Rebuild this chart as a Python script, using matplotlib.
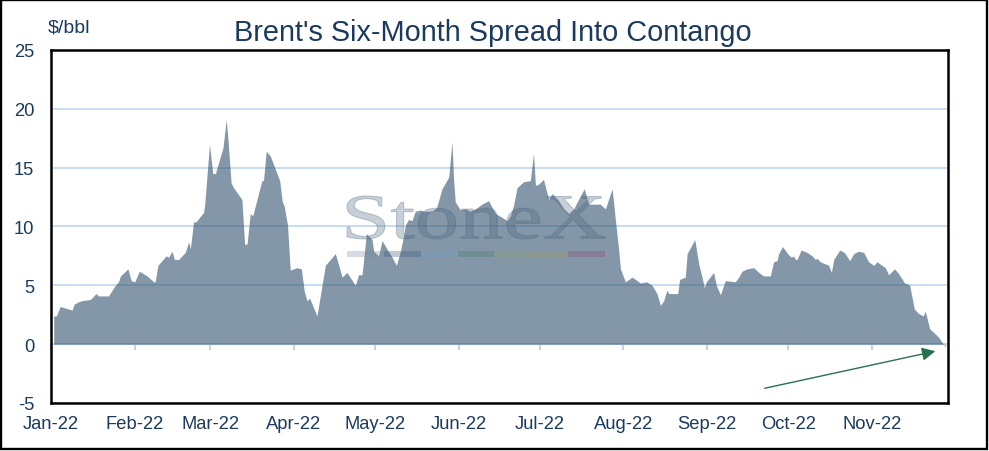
import datetime as dt
import numpy as np
import matplotlib
matplotlib.use("Agg")
import matplotlib.pyplot as plt
import matplotlib.dates as mdates
from matplotlib.patches import Rectangle, PathPatch
from matplotlib.textpath import TextPath
from matplotlib.font_manager import FontProperties
from matplotlib.transforms import Affine2D

plt.rcParams["font.family"] = ["Liberation Sans", "DejaVu Sans"]
plt.rcParams["axes.unicode_minus"] = False

# ---------------- data ----------------
START = dt.datetime(2022, 1, 1)
# days since 1 Jan 2022
day_offset = [
    1, 2, 3.4, 7.8, 8.6, 10.2, 11.5, 14.6, 16.7, 17.6, 21.3, 23.8, 25.0, 25.7,
    28.5, 29.7, 31.0, 32.7, 35.6, 38.0, 38.6, 39.6, 41.1, 42.6, 43.6, 44.8,
    45.7, 47.3, 49.7, 51.0, 51.6, 52.8, 53.7, 56.5, 56.9, 58.7, 59.9, 60.9,
    61.5, 63.7, 64.9, 65.6, 66.7, 67.6, 70.7, 71.7, 72.6, 73.8, 74.7, 78.1,
    78.7, 79.7, 81.2, 84.7, 85.6, 86.4, 87.6, 88.6, 91.1, 92.7, 93.8, 94.8,
    95.8, 98.5, 101.6, 105.3, 107.8, 109.6, 112.7, 113.9, 115.2, 116.8, 118.9,
    119.5, 121.3, 122.6, 124.4, 126.3, 127.9, 129.4, 130.6, 131.2, 132.4,
    133.7, 134.9, 136.8, 138.0, 141.1, 142.8, 144.8, 147.3, 148.5, 149.1,
    149.7, 151.6, 153.4, 155.3, 157.8, 159.6, 162.1, 162.7, 164.6, 167.6,
    168.9, 170.1, 171.3, 172.6, 175.0, 177.5, 178.7, 179.4, 180.6, 182.4,
    184.3, 185.6, 188.0, 189.9, 191.7, 193.6, 196.0, 197.5, 199.1, 201.0,
    203.4, 205.3, 207.8, 209.0, 210.2, 210.9, 212.7, 215.2, 218.3, 220.7,
    222.6, 224.4, 225.7, 226.9, 228.1, 228.7, 232.1, 232.8, 234.9, 235.6,
    236.8, 238.4, 239.9, 241.1, 242.0, 242.7, 245.4, 246.4, 247.9, 249.7,
    253.4, 254.7, 255.9, 257.8, 260.2, 262.1, 263.9, 266.4, 267.6, 268.9,
    269.5, 270.9, 273.1, 274.2, 275.0, 275.7, 276.3, 277.8, 280.0, 281.9,
    283.1, 283.7, 284.9, 288.0, 289.0, 289.9, 292.1, 293.8, 295.8, 297.3,
    299.1, 301.0, 302.8, 304.7, 305.9, 307.1, 309.0, 310.2, 312.4, 313.9,
    316.1, 317.4, 318.0, 319.7, 321.3, 323.0, 323.8, 325.4, 326.9, 328.7,
    330.5, 331.2,
]
spread = [
    2.4, 2.4, 3.2, 2.9, 3.4, 3.6, 3.7, 3.8, 4.3, 4.1, 4.1, 5.0, 5.3, 5.8,
    6.4, 5.4, 5.3, 6.2, 5.8, 5.3, 5.3, 6.7, 7.1, 7.5, 7.4, 7.9,
    7.2, 7.2, 7.8, 8.7, 8.1, 10.4, 10.4, 11.2, 11.8, 17.0, 14.5, 14.5,
    15.0, 16.7, 19.1, 17.2, 13.7, 13.3, 12.3, 8.5, 8.5, 11.1, 10.9, 13.9,
    13.9, 16.4, 16.0, 13.9, 12.2, 11.7, 10.1, 6.3, 6.5, 6.4, 4.5, 3.7,
    3.9, 2.4, 6.7, 7.7, 5.7, 6.1, 5.0, 5.9, 5.9, 9.4, 8.9,
    7.9, 7.5, 8.8, 8.1, 7.4, 6.7, 7.9, 9.2, 10.1, 10.6,
    10.5, 11.3, 11.4, 11.3, 11.3, 11.6, 13.2, 14.2, 17.2, 14.0,
    12.1, 11.4, 11.5, 11.3, 11.6, 11.9, 12.2, 11.9, 11.1, 10.7,
    10.5, 10.9, 11.8, 13.3, 13.8, 13.9, 16.2, 13.5, 13.6, 14.0,
    12.3, 12.8, 12.2, 11.5, 11.1, 11.5, 12.6, 13.2, 11.9, 11.9,
    11.9, 11.5, 13.2, 10.6, 8.1, 6.4, 5.3, 5.7, 5.2, 5.3,
    5.0, 4.3, 3.3, 3.7, 4.6, 4.3, 4.3, 5.5, 5.7, 7.7,
    8.2, 8.9, 6.8, 5.7, 4.8, 5.3, 6.1, 5.0, 4.2, 5.4,
    5.3, 5.7, 6.2, 6.4, 6.5, 6.1, 5.8, 5.8, 7.0, 7.1,
    7.7, 8.3, 7.6, 7.4, 7.5, 7.2, 7.2, 8.0, 7.8, 7.5,
    7.2, 7.3, 7.0, 6.7, 6.1, 7.2, 8.0, 7.8, 7.1, 7.7,
    7.9, 7.8, 7.0, 6.7, 7.0, 6.8, 6.5, 5.9, 6.4, 6.0,
    5.2, 5.1, 5.0, 3.0, 2.6, 2.4, 2.8, 1.3, 1.0, 0.6,
    0.0, -0.3,
]
x_end_day = 332.2
y_ticks = [-5, 0, 5, 10, 15, 20, 25]
title_text = "Brent's Six-Month Spread Into Contango"
unit_text = "$/bbl"
arrow_from = (264.3, -3.75)   # (day, value)
arrow_to = (327.5, -0.6)

# ---------------- styling ----------------
NAVY = "#1B3A5E"
GRID = "#BDD7EE"
AREA = "#32526E"

dates = [START + dt.timedelta(days=d) for d in day_offset]
x = mdates.date2num(dates)
y = np.array(spread)

fig = plt.figure(figsize=(9.89, 4.52), dpi=100)
ax = fig.add_axes([51 / 989, 1 - 404 / 452, (948 - 51) / 989, (404 - 51) / 452])

ymin, ymax = y_ticks[0], y_ticks[-1]
ax.set_ylim(ymin, ymax)
ax.set_xlim(mdates.date2num(START), mdates.date2num(START + dt.timedelta(days=x_end_day)))

ax.fill_between(x, y, 0, where=y >= 0, interpolate=True, color=AREA, alpha=0.6,
                lw=0, zorder=2)
ax.fill_between(x, y, 0, where=y < 0, interpolate=True, color="#F2A541",
                lw=0, zorder=2)

ax.set_yticks(y_ticks)
ax.yaxis.grid(True, color=GRID, lw=1.2, zorder=1)
ax.set_axisbelow(True)
ax.tick_params(axis="y", length=0, pad=12, labelsize=13.2, labelcolor=NAVY)

ax.xaxis.set_major_locator(mdates.MonthLocator())
ax.xaxis.set_major_formatter(mdates.DateFormatter("%b-%y"))
ax.tick_params(axis="x", length=0, pad=9, labelsize=13.2, labelcolor=NAVY)

for s in ax.spines.values():
    s.set_color("black")
    s.set_linewidth(1.8)
    s.set_zorder(6)

# zero axis line with month tick marks
sec = ax.secondary_xaxis((0 - ymin) / (ymax - ymin))
sec.xaxis.set_major_locator(mdates.MonthLocator())
sec.tick_params(axis="x", length=4, width=1.5, color=GRID, labelbottom=False,
                labeltop=False, direction="out")
for s in sec.spines.values():
    s.set_color(GRID)
    s.set_linewidth(1.5)

# watermark
fp = FontProperties(family="Liberation Serif")
tp = TextPath((0, 0), "StoneX", size=1, prop=fp)
ext = tp.get_extents()
bx0, bx1 = (347 - 51) / 897, (605 - 51) / 897
by0, by1 = (404 - 240) / 353, (404 - 197) / 353
tr = (Affine2D().translate(-ext.x0, -ext.y0)
      .scale((bx1 - bx0) / ext.width, (by1 - by0) / ext.height)
      .translate(bx0, by0) + ax.transAxes)
ax.add_patch(PathPatch(tp, transform=tr, facecolor="#48637C", edgecolor="#48637C",
                       alpha=0.3, lw=0.8, zorder=4))

bar_colors = ["#7A8C9C", "#3B5173", "#70A1C3", "#3E7C6A", "#8FA06A", "#A0945A", "#8A4470"]
bw = (bx1 - bx0) / len(bar_colors)
bar_y0, bar_y1 = (404 - 258.3) / 353, (404 - 251.7) / 353
for i, c in enumerate(bar_colors):
    ax.add_patch(Rectangle((bx0 + i * bw, bar_y0), bw, bar_y1 - bar_y0,
                           transform=ax.transAxes, facecolor=c, alpha=0.3, lw=0, zorder=4))

# arrow
a0 = (mdates.date2num(START + dt.timedelta(days=arrow_from[0])), arrow_from[1])
a1 = (mdates.date2num(START + dt.timedelta(days=arrow_to[0])), arrow_to[1])
ax.annotate("", xy=a1, xytext=a0,
            arrowprops=dict(arrowstyle="-|>", color="#2A7150", lw=1.0,
                            mutation_scale=20, shrinkA=0, shrinkB=0),
            annotation_clip=False, zorder=5)

# titles
fig.text(493 / 989, 1 - 33 / 452, title_text, ha="center", va="center",
         fontsize=20.8, color=NAVY)
fig.text(48 / 989, 1 - 27.5 / 452, unit_text, ha="left", va="center",
         fontsize=14, color=NAVY)

# outer border
fig.patches.append(Rectangle((0.0015, 0.0035), 0.9965, 0.9935, transform=fig.transFigure,
                             fill=False, ec="black", lw=1.7))

fig.savefig("out.png", dpi=100)
